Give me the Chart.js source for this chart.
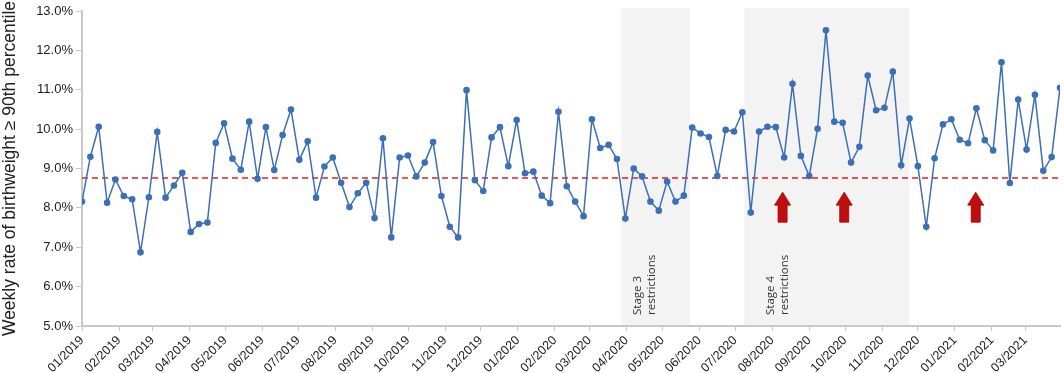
<!DOCTYPE html>
<html>
<head>
<meta charset="utf-8">
<script src="https://cdn.jsdelivr.net/npm/chart.js@4"></script>
<style>
html, body { margin: 0; padding: 0; background: #fff; }
</style>
</head>
<body>
<canvas id="rateChart" width="1064" height="373"></canvas>
<script>
// weekly rate (%) of birthweight >= 90th percentile, first week starts 01/01/2019
const weeklyRate = [
  8.16, 9.30, 10.06, 8.13, 8.72, 8.30, 8.22, 6.87, 8.27, 9.93,
  8.26, 8.57, 8.89, 7.39, 7.59, 7.63, 9.65, 10.15, 9.25, 8.97,
  10.19, 8.74, 10.05, 8.96, 9.85, 10.50, 9.22, 9.69, 8.26, 9.05,
  9.28, 8.64, 8.02, 8.37, 8.64, 7.74, 9.77, 7.25, 9.28, 9.33,
  8.80, 9.15, 9.67, 8.30, 7.52, 7.25, 10.99, 8.70, 8.43, 9.79,
  10.05, 9.06, 10.23, 8.88, 8.92, 8.31, 8.12, 10.44, 8.55, 8.16,
  7.79, 10.25, 9.52, 9.60, 9.24, 7.73, 9.00, 8.80, 8.16, 7.93,
  8.67, 8.16, 8.31, 10.04, 9.89, 9.80, 8.81, 9.98, 9.94, 10.43,
  7.88, 9.94, 10.06, 10.05, 9.28, 11.15, 9.32, 8.81, 10.01, 12.51,
  10.19, 10.16, 9.15, 9.55, 11.36, 10.48, 10.54, 11.46, 9.08, 10.27,
  9.06, 7.52, 9.26, 10.12, 10.25, 9.73, 9.64, 10.53, 9.72, 9.46,
  11.70, 8.63, 10.75, 9.48, 10.87, 8.94, 9.29, 11.05
];
const baselineRate = 8.76;

const tickLabels = [
  '01/2019', '02/2019', '03/2019', '04/2019', '05/2019', '06/2019', '07/2019',
  '08/2019', '09/2019', '10/2019', '11/2019', '12/2019',
  '01/2020', '02/2020', '03/2020', '04/2020', '05/2020', '06/2020', '07/2020',
  '08/2020', '09/2020', '10/2020', '11/2020', '12/2020',
  '01/2021', '02/2021', '03/2021'
];
const yTicks = [5, 6, 7, 8, 9, 10, 11, 12, 13];

// periods and markers, in days since 01/01/2019
const restrictionNames = ['Stage 3', 'Stage 4'];
const restrictionStart = [451.5, 554.6];
const restrictionEnd = [509.2, 692.7];
const restrictionLabelAt = [465.4, 577.0];
const arrowDays = [586.7, 638.3, 748.4];
const arrowTipRate = 8.40;

const dayMs = 86400000;
const origin = Date.UTC(2019, 0, 1);
const tickDays = tickLabels.map(function (s) {
    const parts = s.split('/');
    return (Date.UTC(+parts[1], +parts[0] - 1, 1) - origin) / dayMs;
});
const lastDay = (weeklyRate.length - 1) * 7;
const ratePoints = weeklyRate.map(function (v, i) { return { x: i * 7, y: v }; });

const overlays = {
    id: 'overlays',
    beforeDatasetsDraw: function (chart) {
        const ctx = chart.ctx;
        const x = chart.scales.x;
        const area = chart.chartArea;
        ctx.save();
        ctx.fillStyle = '#f3f3f3';
        for (let i = 0; i < restrictionStart.length; i++) {
            const x0 = x.getPixelForValue(restrictionStart[i]);
            const x1 = x.getPixelForValue(restrictionEnd[i]);
            ctx.fillRect(x0, area.top - 3, x1 - x0, area.bottom - area.top + 2);
        }
        ctx.fillStyle = '#333';
        ctx.font = '11.5px "Open Sans"';
        ctx.textAlign = 'left';
        ctx.textBaseline = 'middle';
        for (let i = 0; i < restrictionNames.length; i++) {
            const px = x.getPixelForValue(restrictionLabelAt[i]);
            ctx.save();
            ctx.translate(px, 315);
            ctx.rotate(-Math.PI / 2);
            ctx.fillText(restrictionNames[i], 0, 0);
            ctx.fillText('restrictions', 0, 13.5);
            ctx.restore();
        }
        ctx.restore();
    },
    afterDatasetsDraw: function (chart) {
        const ctx = chart.ctx;
        const x = chart.scales.x;
        const y = chart.scales.y;
        const tip = y.getPixelForValue(arrowTipRate);
        ctx.save();
        ctx.fillStyle = '#c00d0d';
        ctx.strokeStyle = '#a00000';
        ctx.lineWidth = 0.8;
        arrowDays.forEach(function (d) {
            const cx = x.getPixelForValue(d);
            ctx.beginPath();
            ctx.moveTo(cx, tip);
            ctx.lineTo(cx + 8, tip + 13);
            ctx.lineTo(cx + 4.5, tip + 13);
            ctx.lineTo(cx + 4.5, tip + 30);
            ctx.lineTo(cx - 4.5, tip + 30);
            ctx.lineTo(cx - 4.5, tip + 13);
            ctx.lineTo(cx - 8, tip + 13);
            ctx.closePath();
            ctx.fill();
            ctx.stroke();
        });
        ctx.restore();
    }
};

const ctxRate = document.getElementById('rateChart').getContext('2d');
const rateChart = new Chart(ctxRate, {
    type: 'line',
    data: {
        datasets: [{
            label: 'Weekly rate',
            data: ratePoints,
            borderColor: '#3d6fb6',
            backgroundColor: '#3d6fb6',
            borderWidth: 1.5,
            pointRadius: 3.3,
            pointBorderWidth: 0,
            tension: 0
        }, {
            label: 'Baseline',
            data: [{ x: 0, y: baselineRate }, { x: lastDay, y: baselineRate }],
            borderColor: '#e0201c',
            borderWidth: 1.5,
            borderDash: [6, 4],
            pointRadius: 0,
            fill: false
        }]
    },
    options: {
        responsive: false,
        animation: false,
        layout: { padding: { top: 11, right: 3, left: 0, bottom: 0 } },
        plugins: {
            legend: { display: false },
            tooltip: { enabled: false }
        },
        scales: {
            x: {
                type: 'linear',
                min: 0,
                max: lastDay,
                afterBuildTicks: function (scale) {
                    scale.ticks = tickDays.map(function (d) { return { value: d }; });
                },
                afterFit: function (scale) { scale.height = 47; },
                border: { display: true, color: '#c8c8c8', width: 2 },
                grid: { display: true, drawOnChartArea: false, drawTicks: true, tickLength: 5, color: '#c8c8c8' },
                ticks: {
                    autoSkip: false,
                    maxRotation: 45,
                    minRotation: 45,
                    padding: 2,
                    color: '#1a1a1a',
                    font: { family: '"Liberation Sans", Arial', size: 12.5 },
                    callback: function (value, index) { return tickLabels[index]; }
                }
            },
            y: {
                min: 5,
                max: 13,
                afterBuildTicks: function (scale) {
                    scale.ticks = yTicks.map(function (v) { return { value: v }; });
                },
                afterFit: function (scale) { scale.width = 82; },
                border: { display: true, color: '#c8c8c8', width: 2 },
                grid: { display: true, drawOnChartArea: false, drawTicks: true, tickLength: 6, color: '#c8c8c8' },
                ticks: {
                    padding: 3,
                    color: '#1a1a1a',
                    font: { family: '"Liberation Sans", Arial', size: 13 },
                    callback: function (value) { return value.toFixed(1) + '%'; }
                },
                title: {
                    display: true,
                    text: 'Weekly rate of birthweight \u2265 90th percentile',
                    color: '#222',
                    padding: { top: 0, bottom: 1 },
                    font: { family: '"Liberation Sans", Arial', size: 17.5 }
                }
            }
        }
    },
    plugins: [overlays]
});
</script>
</body>
</html>
